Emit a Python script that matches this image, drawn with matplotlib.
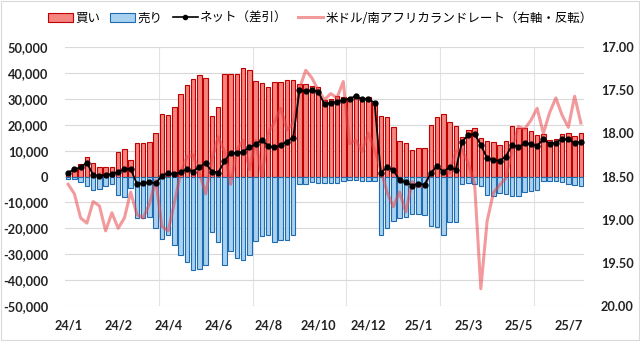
import matplotlib
matplotlib.use("Agg")
import matplotlib.pyplot as plt
import numpy as np
from matplotlib.patches import Rectangle, Patch
from matplotlib.lines import Line2D
from matplotlib.ticker import FuncFormatter
from matplotlib.font_manager import FontProperties

# ---- data (weekly, from 2024/1 to 2025/7) ----
buy = [1500, 2800, 4900, 7400, 5100, 3800, 3600, 3800, 9600, 10500,
       6400, 12800, 12800, 13200, 16700, 24100, 23700, 26700, 31800, 35300,
       37800, 39100, 38200, 23300, 26700, 39500, 39500, 39700, 41700, 41000,
       36900, 36200, 34400, 36500, 36500, 37400, 37200, 35600, 35600, 35000,
       34400, 29700, 30100, 31000, 30800, 30500, 31400, 30500, 30800, 28500,
       23500, 22800, 19000, 13700, 12800, 10300, 10900, 10900, 19700, 22800,
       24100, 21000, 19500, 15400, 17900, 18600, 14700, 13700, 13500, 12200,
       13700, 19500, 18600, 18600, 17700, 16000, 16400, 14100, 14500, 16400,
       16700, 15600, 16700]
sell = [-1000, -1000, -2000, -3500, -5400, -4900, -3500, -3000, -7300, -8000,
        -4500, -16000, -16000, -15600, -20000, -24000, -22700, -26500, -30400, -33000,
        -36200, -35900, -34000, -21500, -25400, -34000, -28800, -31400, -32300, -30400,
        -25000, -22800, -22400, -25400, -24400, -24400, -22400, -3000, -3000, -2300,
        -2600, -2600, -2600, -2600, -1900, -1500, -1500, -1900, -1900, -1900,
        -22400, -19900, -17300, -16000, -15600, -14400, -14400, -14700, -19000, -19500,
        -22400, -17700, -17700, -2800, -2600, -2800, -3500, -7100, -7400, -6400,
        -6700, -7700, -7400, -5800, -5500, -5100, -1900, -1900, -1900, -2300,
        -2800, -3200, -3800]
net = [1500, 2800, 3500, 5400, 600, 300, 600, 900, 1700, 2900,
       2900, -2800, -2600, -2200, -2600, 300, 1300, 900, 1700, 2800,
       1900, 3800, 5100, 1900, 1500, 5800, 9200, 9000, 9600, 11300,
       12400, 14100, 11800, 11200, 12100, 13500, 15000, 33300, 32900, 33300,
       32700, 27900, 28500, 28800, 29500, 30100, 31000, 29900, 29900, 28500,
       1500, 3500, 2600, -1500, -2200, -3500, -2800, -3200, 1300, 4100,
       1700, 3700, 2600, 13500, 16000, 16400, 12200, 7100, 6400, 6000,
       7700, 12200, 11300, 12800, 12600, 11800, 14400, 12600, 13100, 14400,
       14400, 12800, 13500]
usdzar = [18.59, 18.70, 18.98, 19.04, 18.79, 18.84, 19.13, 18.92, 19.10, 18.98,
          18.68, 18.94, 18.98, 18.82, 18.54, 19.08, 19.13, 18.80, 18.46, 18.27,
          18.25, 18.46, 18.70, 18.30, 18.04, 18.21, 18.59, 18.19, 18.08, 18.42,
          18.08, 18.50, 18.00, 17.87, 17.71, 17.96, 17.88, 17.48, 17.27, 17.36,
          17.50, 17.61, 17.54, 17.59, 17.40, 18.12, 18.08, 18.21, 18.00, 18.19,
          18.42, 18.68, 18.85, 18.68, 18.91, 18.56, 18.62, 18.60, 18.46, 18.39,
          18.42, 18.46, 18.21, 18.19, 18.35, 18.58, 19.80, 19.02, 18.69, 18.60,
          18.52, 18.19, 17.92, 17.95, 17.85, 17.71, 18.00, 17.76, 17.59, 17.79,
          17.93, 17.57, 17.88]
tick_labels = ["24/1", "24/2", "24/4", "24/6", "24/8", "24/10", "24/12",
               "25/1", "25/3", "25/5", "25/7"]
label_every = 8
grid_every = 15

legend_labels = ["買い", "売り", "ネット（差引）", "米ドル/南アフリカランドレート（右軸・反転）"]

# ---- styling ----
plt.rcParams['font.family'] = ['Noto Sans CJK JP', 'DejaVu Sans']
red_face, red_edge = '#F4857F', '#C00000'
blue_face, blue_edge = '#A9D2F0', '#1F6BAF'
pink = '#E8474C'
tick_fp = FontProperties(family='Lato', weight='bold', size=9.2)

n = len(buy)
x = np.arange(n)

fig = plt.figure(figsize=(6.4, 3.41), dpi=100)
ax = fig.add_axes([65/640, 1-306/341, (584-65)/640, (306-47)/341])

ax.bar(x, buy, width=0.72, color=red_face, edgecolor=red_edge, linewidth=0.8, zorder=2)
ax.bar(x, sell, width=0.72, color=blue_face, edgecolor=blue_edge, linewidth=0.8, zorder=2)

ax.set_xlim(-0.5, n - 0.5)
ax.set_ylim(-50000, 50000)
ax.set_yticks(np.arange(-50000, 50001, 10000))
ax.yaxis.set_major_formatter(FuncFormatter(lambda v, p: f"{int(v):,}"))
ax.grid(axis='y', color='#D9D9D9', linewidth=0.8, zorder=0)
for gx in np.arange(grid_every - 0.5, n, grid_every):
    ax.axvline(gx, color='#E3E3E3', linewidth=0.8, zorder=0)
ax.set_axisbelow(True)
ax.set_xticks(np.arange(0, n, label_every)[:len(tick_labels)])
ax.set_xticklabels(tick_labels)
for s in ax.spines.values():
    s.set_visible(False)
ax.tick_params(axis='both', length=0)
ax.tick_params(axis='y', pad=12)
ax.tick_params(axis='x', pad=10)
for lab in ax.get_xticklabels() + ax.get_yticklabels():
    lab.set_fontproperties(tick_fp)
    lab.set_color('#222222')

# right axis (inverted) for USD/ZAR
ax2 = ax.twinx()
ax2.plot(x, usdzar, color=pink, alpha=0.55, linewidth=2.2, zorder=3)
ax2.set_ylim(20.0, 17.0)
ax2.set_yticks(np.arange(17.0, 20.01, 0.5))
ax2.yaxis.set_major_formatter(FuncFormatter(lambda v, p: f"{v:.2f}"))
for s in ax2.spines.values():
    s.set_visible(False)
ax2.tick_params(axis='y', length=0, pad=12)
for lab in ax2.get_yticklabels():
    lab.set_fontproperties(tick_fp)
    lab.set_color('#222222')

# net line on top
ax3 = ax.twinx()
ax3.set_ylim(ax.get_ylim())
ax3.plot(x, net, color='black', linewidth=1.3, marker='o', markersize=3.5, zorder=4)
ax3.axis('off')

# legend
handles = [Patch(facecolor=red_face, edgecolor=red_edge, linewidth=0.8),
           Patch(facecolor=blue_face, edgecolor=blue_edge, linewidth=0.8),
           Line2D([0], [0], color='black', linewidth=1.2, marker='o', markersize=3),
           Line2D([0], [0], color=pink, alpha=0.55, linewidth=2.2)]
fig.legend(handles, legend_labels, loc='center', bbox_to_anchor=(0.5, 1 - 18/341),
           ncol=4, frameon=False, fontsize=9, handlelength=2.0, handletextpad=0.2,
           columnspacing=0.8, borderaxespad=0)

fig.patches.append(Rectangle((0.002, 0.003), 0.996, 0.994, transform=fig.transFigure,
                             fill=False, edgecolor='#D9D9D9', linewidth=0.8))

fig.savefig('out.png', dpi=100)
